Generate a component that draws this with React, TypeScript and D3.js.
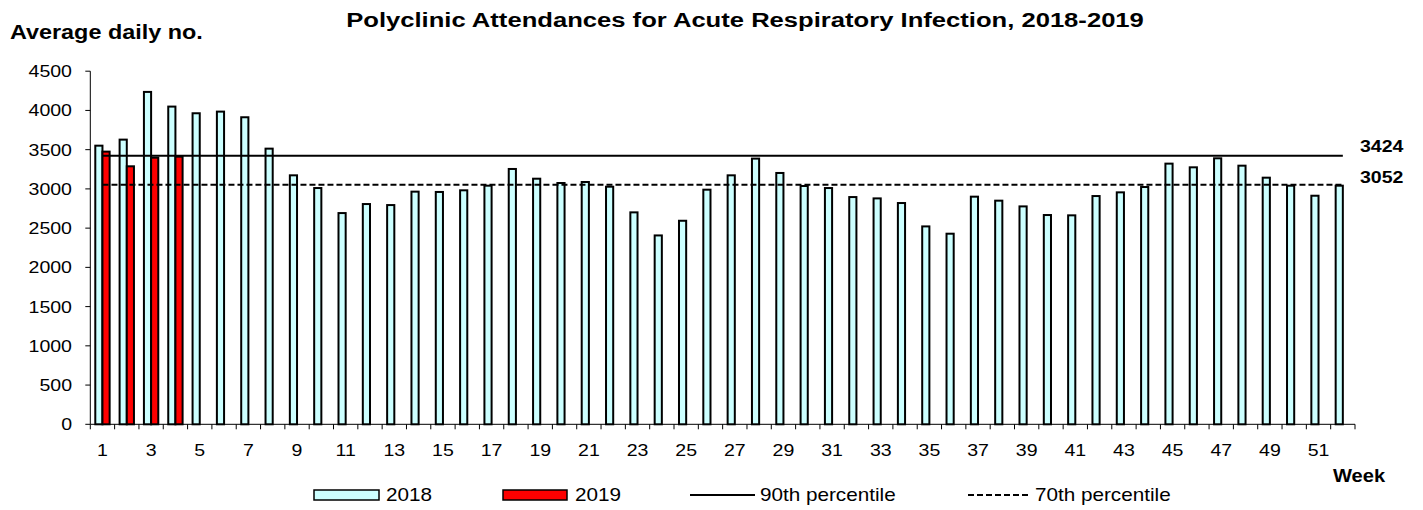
import * as d3 from "d3";

const width = 1423;
const height = 510;

const weeks = [
  "1", "2", "3", "4", "5", "6", "7", "8", "9", "10", "11", "12", "13",
  "14", "15", "16", "17", "18", "19", "20", "21", "22", "23", "24", "25", "26",
  "27", "28", "29", "30", "31", "32", "33", "34", "35", "36", "37", "38", "39",
  "40", "41", "42", "43", "44", "45", "46", "47", "48", "49", "50", "51", "52",
];
const seriesNames = ["2018", "2019"];

const values2018 = [
  3551, 3628, 4236, 4049, 3964, 3985, 3913, 3513, 3173, 3011, 2692, 2807, 2794,
  2965, 2961, 2982, 3041, 3254, 3130, 3075, 3088, 3028, 2701, 2407, 2594, 2990,
  3173, 3386, 3203, 3037, 3011, 2896, 2879, 2820, 2522, 2429, 2901, 2850, 2777,
  2667, 2663, 2909, 2956, 3024, 3322, 3275, 3390, 3296, 3143, 3041, 2913, 3041,
];
const values2019 = [3475, 3288, 3398, 3411];

const p90 = 3424;
const p70 = 3052;
const yTicks = [0, 500, 1000, 1500, 2000, 2500, 3000, 3500, 4000, 4500];

const left = 90.3;
const right = 1355;
const top = 71.2;
const bottom = 424.3;
const font = "'Liberation Sans', Arial, sans-serif";

// the source text is a bit stretched sideways, so scale x a little
const T = ({ x, y, size, bold, anchor, sx = 1.15, children }: any) => (
  <text
    transform={`translate(${x},${y}) scale(${sx},1)`}
    fontSize={size}
    fontWeight={bold ? "bold" : "normal"}
    textAnchor={anchor || "start"}
    fontFamily={font}
    fill="#000"
  >
    {children}
  </text>
);

const App = () => {
  const xCat = d3.scaleBand().domain(weeks).range([left, right]);
  const x = d3
    .scaleBand()
    .domain(weeks)
    .range([left, right])
    .paddingInner(0.41)
    .paddingOuter(0.205);
  const xs = d3.scaleBand().domain(seriesNames).range([0, x.bandwidth()]);
  const y = d3.scaleLinear().domain([0, 4500]).range([bottom, top]);

  const step = xCat.step();
  const center = (w: string) => (xCat(w) as number) + step / 2;
  const lineX1 = center(weeks[0]);
  const lineX2 = center(weeks[weeks.length - 1]);

  const bars = [
    ...values2018.map((v, i) => ({ s: "2018", w: weeks[i], v })),
    ...values2019.map((v, i) => ({ s: "2019", w: weeks[i], v })),
  ];

  return (
    <svg
      width={width}
      height={height}
      style={{ position: "absolute", left: 0, top: 0, background: "#fff" }}
    >
      <T x={745} y={27} size={21} sx={1.22} bold anchor="middle">
        Polyclinic Attendances for Acute Respiratory Infection, 2018-2019
      </T>
      <T x={10} y={39} size={19.5} sx={1.2} bold>
        Average daily no.
      </T>

      {/* y axis */}
      <line x1={left} x2={left} y1={top} y2={bottom} stroke="#000" strokeWidth={1} />
      {yTicks.map((t) => (
        <g key={t}>
          <line x1={left - 5} x2={left} y1={y(t)} y2={y(t)} stroke="#000" />
          <T x={72} y={y(t) + 6} size={17} anchor="end">
            {t}
          </T>
        </g>
      ))}

      {/* x axis */}
      <line x1={left} x2={right} y1={bottom} y2={bottom} stroke="#000" strokeWidth={1} />
      {[...weeks, "end"].map((w, i) => {
        const xx = left + i * step;
        return <line key={"t" + i} x1={xx} x2={xx} y1={bottom} y2={bottom + 5} stroke="#000" />;
      })}
      {weeks
        .filter((_, i) => i % 2 === 0)
        .map((w) => (
          <T key={"l" + w} x={center(w)} y={456} size={17} anchor="middle">
            {w}
          </T>
        ))}
      <T x={1333} y={482} size={17.5} bold>
        Week
      </T>

      {/* bars */}
      {bars.map((d) => (
        <rect
          key={d.s + d.w}
          x={(x(d.w) as number) + (xs(d.s) as number)}
          y={y(d.v)}
          width={xs.bandwidth()}
          height={bottom - y(d.v)}
          fill={d.s === "2018" ? "#ccffff" : "#ff0000"}
          stroke="#000"
          strokeWidth={2}
        />
      ))}

      {/* percentile lines */}
      <line x1={lineX1} x2={lineX2} y1={y(p90)} y2={y(p90)} stroke="#000" strokeWidth={2} />
      <line
        x1={lineX1}
        x2={lineX2}
        y1={y(p70)}
        y2={y(p70)}
        stroke="#000"
        strokeWidth={2}
        strokeDasharray="6,3"
      />
      <T x={1360} y={y(p90) - 4} size={17} bold>
        {p90}
      </T>
      <T x={1360} y={y(p70) - 2} size={17} bold>
        {p70}
      </T>

      {/* legend */}
      <rect x={314} y={490} width={65} height={10} fill="#ccffff" stroke="#000" strokeWidth={1.5} />
      <T x={386} y={501} size={18}>2018</T>
      <rect x={503} y={490} width={64} height={10} fill="#ff0000" stroke="#000" strokeWidth={1.5} />
      <T x={575} y={501} size={18}>2019</T>
      <line x1={690} x2={755} y1={495} y2={495} stroke="#000" strokeWidth={2} />
      <T x={760} y={501} size={18}>90th percentile</T>
      <line x1={968} x2={1030} y1={495} y2={495} stroke="#000" strokeWidth={2} strokeDasharray="6,3" />
      <T x={1035} y={501} size={18}>70th percentile</T>
    </svg>
  );
};

export default App;
